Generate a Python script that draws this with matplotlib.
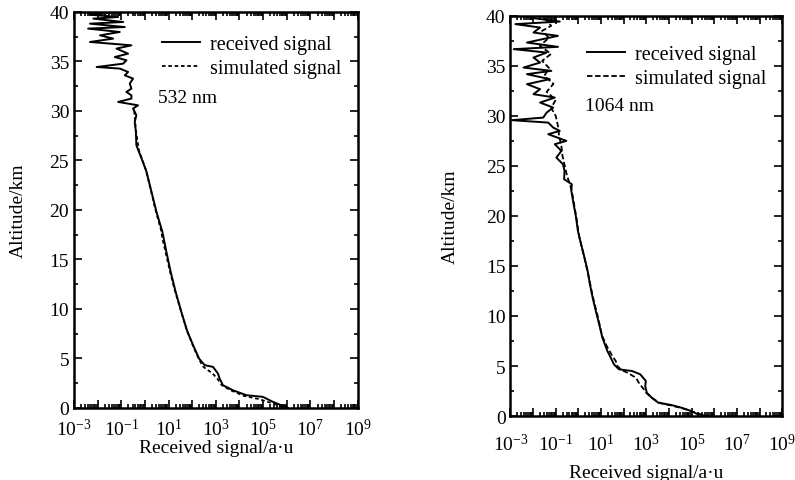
import numpy as np
import matplotlib
matplotlib.use("Agg")
import matplotlib.pyplot as plt
from matplotlib.ticker import FixedLocator, FuncFormatter, MultipleLocator, LogLocator, NullFormatter

plt.rcParams['font.family'] = ['Liberation Serif', 'DejaVu Serif']
plt.rcParams['mathtext.fontset'] = 'custom'
plt.rcParams['mathtext.rm'] = 'Liberation Serif'

# ---- data: altitude (km) and log10 of received signal ----
# 532 nm, received
alt_532_rec = [39.93, 39.73, 39.49, 39.33, 38.99, 38.82, 38.48, 38.32, 37.98, 37.64,
               37.31, 36.97, 36.63, 36.30, 35.79, 35.45, 35.12, 34.78, 34.44, 34.28,
               33.94, 33.60, 33.27, 32.76, 32.26, 31.92, 31.58, 31.25, 30.91, 30.57,
               30.24, 29.56, 28.89, 27.88, 26.53, 25.19, 23.84, 21.82, 19.80, 17.78,
               15.76, 13.74, 11.72, 9.70, 7.68, 6.33, 4.98, 4.31, 4.14, 3.47,
               2.96, 2.29, 1.78, 1.28, 1.11, 0.61, 0.20, 0.0]
log_532_rec = [-1.34, -2.32, -1.13, -2.18, -0.92, -2.32, -0.85, -2.40, -1.06, -1.90,
               -1.34, -2.32, -0.57, -1.20, -0.71, -1.27, -0.78, -0.92, -2.04, -1.06,
               -0.71, -0.85, -0.50, -0.64, -0.57, -0.78, -0.57, -0.57, -1.13, -0.29,
               -0.50, -0.36, -0.43, -0.38, -0.36, -0.14, 0.07, 0.28, 0.49, 0.74,
               0.91, 1.09, 1.30, 1.54, 1.80, 2.04, 2.29, 2.53, 2.88, 3.09,
               3.16, 3.30, 3.72, 4.29, 4.99, 5.41, 5.83, 6.04]
# 532 nm, simulated
alt_532_sim = [30.0, 28.0, 26.0, 24.0, 22.0, 20.0, 18.0, 17.0, 16.0, 14.0, 12.0, 10.0,
               8.0, 6.0, 5.0, 4.2, 4.0, 3.5, 3.0, 2.3, 1.8, 1.2, 0.9, 0.6, 0.3, 0.0]
log_532_sim = [-0.45, -0.38, -0.25, 0.05, 0.25, 0.45, 0.68, 0.75, 0.85, 1.04, 1.25, 1.50,
               1.75, 2.08, 2.27, 2.45, 2.55, 2.85, 3.05, 3.25, 3.60, 4.20, 4.80, 5.20, 5.60, 5.90]

# 1064 nm, received
alt_1064_rec = [39.77, 39.43, 39.17, 38.83, 38.33, 38.0, 37.33, 36.9, 36.67, 36.33,
                35.83, 35.33, 34.83, 34.5, 34.17, 33.67, 33.17, 32.67, 32.17, 31.83,
                31.33, 30.83, 30.33, 29.83, 29.57, 29.33, 28.83, 28.5, 28.17, 27.5,
                27.17, 26.5, 25.83, 25.17, 24.5, 23.67, 23.17, 22.5, 21.17, 19.83,
                18.5, 17.17, 15.83, 14.5, 13.17, 11.83, 10.5, 9.17, 7.83, 6.5,
                5.83, 5.17, 4.67, 4.5, 4.17, 3.5, 3.0, 2.33, 1.83, 1.33,
                1.1, 0.83, 0.5, 0.17, 0.0]
log_1064_rec = [-1.98, -0.82, -2.78, -1.69, -1.98, -0.90, -2.27, -0.90, -2.85, -1.40,
                -1.98, -1.69, -2.42, -1.19, -2.27, -1.26, -2.27, -1.69, -1.98, -1.04,
                -1.69, -1.11, -1.40, -1.55, -2.93, -1.33, -1.11, -0.82, -1.33, -0.53,
                -1.04, -0.75, -0.97, -0.68, -0.61, -0.63, -0.29, -0.31, -0.21, -0.10,
                -0.02, 0.12, 0.27, 0.41, 0.51, 0.63, 0.77, 0.92, 1.06, 1.28,
                1.43, 1.57, 1.79, 2.37, 2.73, 2.98, 2.95, 3.02, 3.24, 3.53,
                4.11, 4.55, 4.98, 5.27, 5.71]
# 1064 nm, simulated
alt_1064_sim = [39.8, 39.0, 38.5, 37.8, 37.0, 36.2, 35.5, 34.8, 34.0, 33.2, 32.4, 31.6,
                30.8, 30.0, 29.0, 28.0, 27.0, 26.0, 25.0, 24.0, 23.0, 22.0, 20.0, 18.0,
                16.0, 14.0, 12.0, 10.0, 8.0, 7.0, 6.0, 5.5, 5.0, 4.6, 4.3, 3.8,
                3.2, 2.8, 2.3, 1.8, 1.3, 1.0, 0.7, 0.4, 0.1, 0.0]
log_1064_sim = [-1.5, -1.2, -1.6, -1.3, -1.7, -1.2, -1.6, -1.3, -1.5, -1.1, -1.4, -1.0,
                -1.2, -1.0, -0.9, -0.85, -0.75, -0.7, -0.6, -0.5, -0.35, -0.25, -0.1, 0.03,
                0.25, 0.45, 0.63, 0.85, 1.05, 1.25, 1.5, 1.65, 1.72, 1.9, 2.2, 2.55,
                2.7, 2.85, 3.0, 3.25, 3.6, 4.2, 4.7, 5.1, 5.5, 5.6]

decades = np.arange(-3, 10)
label_decades = [-3, -1, 1, 3, 5, 7, 9]

fig = plt.figure(figsize=(7.95, 4.81), dpi=100)
ax1 = fig.add_axes([0.093, 0.150, 0.357, 0.823])
ax2 = fig.add_axes([0.642, 0.133, 0.342, 0.832])


def fmt(v, pos):
    e = int(round(np.log10(v)))
    if e in label_decades:
        return r'$\mathrm{10^{%d}}$' % e
    return ''


def setup(ax, rec_alt, rec_log, sim_alt, sim_log, sim_style, wl, leg_xy, wl_xy,
          ylab_x, xlab_y, xpad):
    ax.plot(np.power(10.0, sim_log), sim_alt, color='black', lw=1.3, linestyle=sim_style,
            label='simulated signal')
    ax.plot(np.power(10.0, rec_log), rec_alt, color='black', lw=1.4, label='received signal')
    ax.set_xscale('log')
    ax.set_xlim(1e-3, 1e9)
    ax.set_ylim(0, 40)
    ax.xaxis.set_major_locator(FixedLocator(10.0 ** decades))
    ax.xaxis.set_major_formatter(FuncFormatter(fmt))
    ax.xaxis.set_minor_locator(LogLocator(base=10, subs=np.arange(2, 10), numticks=100))
    ax.xaxis.set_minor_formatter(NullFormatter())
    ax.yaxis.set_major_locator(MultipleLocator(5))
    ax.yaxis.set_minor_locator(MultipleLocator(2.5))
    ax.tick_params(which='both', direction='in', top=True, right=True, labelsize=14,
                   width=1.2)
    ax.tick_params(which='major', length=6)
    ax.tick_params(which='minor', length=3)
    ax.tick_params(axis='x', which='major', pad=xpad)
    for s in ax.spines.values():
        s.set_linewidth(1.8)
    ax.set_xlabel('Received signal/a·u', fontsize=14)
    ax.set_ylabel('Altitude/km', fontsize=14)
    ax.xaxis.set_label_coords(0.5, xlab_y)
    ax.yaxis.set_label_coords(ylab_x, 0.5)
    handles, labels = ax.get_legend_handles_labels()
    ax.legend(handles[::-1], labels[::-1], loc='upper left', bbox_to_anchor=leg_xy,
              frameon=False, fontsize=14.5, handlelength=1.9, handletextpad=0.5,
              labelspacing=0.25, borderaxespad=0, borderpad=0)
    ax.text(wl_xy[0], wl_xy[1], wl, transform=ax.transAxes, fontsize=14,
            va='center', ha='left')


setup(ax1, alt_532_rec, log_532_rec, alt_532_sim, log_532_sim, (0, (2.0, 1.5)),
      '532 nm', (0.31, 0.942), (0.296, 0.785), -0.165, -0.078, 7)
setup(ax2, alt_1064_rec, log_1064_rec, alt_1064_sim, log_1064_sim, (0, (3.0, 1.5)),
      '1064 nm', (0.281, 0.927), (0.274, 0.775), -0.19, -0.12, 12)

fig.savefig('out.png', dpi=100)
